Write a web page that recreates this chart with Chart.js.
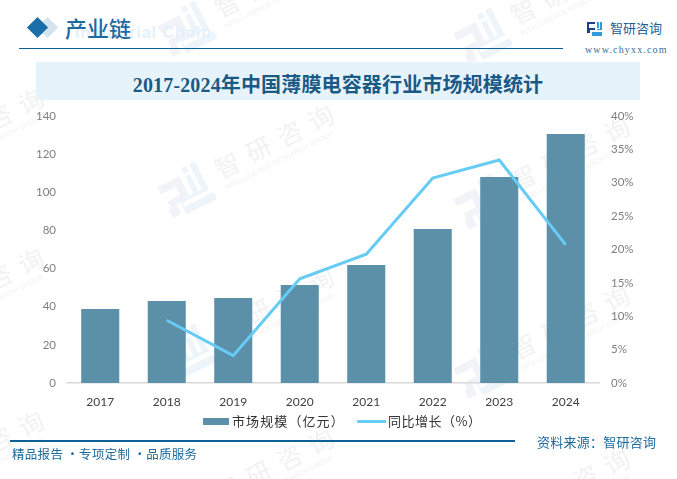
<!DOCTYPE html>
<html lang="zh">
<head>
<meta charset="utf-8">
<title>2017-2024年中国薄膜电容器行业市场规模统计</title>
<script src="https://cdn.jsdelivr.net/npm/chart.js@4"></script>
<style>
    html, body { margin: 0; padding: 0; background: #fff; }
    #page { position: relative; width: 677px; height: 479px; overflow: hidden; font-family: "Noto Sans CJK SC", sans-serif; }
    #page > * { position: absolute; }
    #chartBox { left: 0; top: 0; width: 677px; height: 479px; }
    .abs { white-space: nowrap; line-height: 1; }
    .wm { width: 0; height: 0; transform: rotate(-27deg); transform-origin: 0 0; }
    .wm svg { position: absolute; left: -25px; top: -23px; }
    .wm b { position: absolute; white-space: nowrap; font-weight: 400; line-height: 1; }
    .wm .cn { left: 35px; top: -18px; font-size: 25px; letter-spacing: 10px; color: #f2f2f2; }
    .wm .en { left: 35px; top: 11px; font: 7px "Liberation Sans", sans-serif; letter-spacing: .1px; color: #f2f2f2; }
    .legendText { font-size: 13px; letter-spacing: 1.1px; color: #333; }
</style>
</head>
<body>
<div id="page">
    <div id="watermarks"></div>

    <!-- header -->
    <div style="left:40px;top:20px;width:15px;height:15px;background:#d3e4ef;transform:rotate(45deg)"></div>
    <div style="left:30px;top:20px;width:15px;height:15px;background:#1a6fa8;transform:rotate(45deg)"></div>
    <div class="abs" style="left:75px;top:24px;font:bold 16px 'Liberation Sans',sans-serif;letter-spacing:1px;color:#e4f1fa">Industrial Chain</div>
    <div class="abs" style="left:65px;top:16px;font-size:22px;font-weight:500;color:#1f6aa0">产业链</div>
    <div style="left:19px;top:47.5px;width:544px;height:1.5px;background:#0a6299"></div>
    <svg style="left:587px;top:22px" width="15" height="15" viewBox="0 0 15 15">
        <path d="M0 0h8v2H2v4h6v2H3v3H0z" fill="#1d3f8f"/>
        <path d="M10 0h2v6h-2zM13 0h2v8h-5v-1h3zM5 10h10v4H5z" fill="#2f9bd8"/>
    </svg>
    <div class="abs" style="left:610px;top:21px;font-size:13px;color:#1f5f94">智研咨询</div>
    <div class="abs" style="left:585px;top:44px;font:10px 'Liberation Serif',serif;letter-spacing:1.15px;color:#3a6d92">www.chyxx.com</div>

    <!-- title -->
    <div style="left:36px;top:62px;width:604px;height:38px;background:#e6f3fb"></div>
    <div class="abs" style="left:36px;width:604px;top:69px;text-align:center;font:bold 20px 'Liberation Serif','Noto Sans CJK SC',serif;letter-spacing:.15px;color:#1a5a85">2017-2024年中国薄膜电容器行业市场规模统计</div>

    <!-- chart -->
    <div id="chartBox"><canvas id="marketChart"></canvas></div>

    <!-- legend -->
    <div style="left:203px;top:418px;width:26px;height:7px;background:#5c90a9"></div>
    <div class="abs legendText" id="legendBar" style="left:232px;top:414px"></div>
    <div style="left:357px;top:420px;width:29px;height:3px;border-radius:1px;background:#66ccf5"></div>
    <div class="abs legendText" id="legendLine" style="left:388px;top:414px;letter-spacing:.5px"></div>

    <!-- footer -->
    <div style="left:10px;top:440px;width:505px;height:1.5px;background:#0a6299"></div>
    <div class="abs" style="left:12px;top:448px;font-size:12.5px;letter-spacing:.3px;color:#1d6a9c">精品报告 ·专项定制 ·品质服务</div>
    <div class="abs" style="left:537px;top:435px;font-size:13px;letter-spacing:.25px;color:#1d6a9c">资料来源：智研咨询</div>
</div>

<script>
    // ===============================================
    // 1. Data
    // ===============================================
    const years = ['2017', '2018', '2019', '2020', '2021', '2022', '2023', '2024'];
    const marketSize = [38.8, 43, 44.6, 51.4, 61.9, 80.8, 108, 130.6];
    const yoyGrowth = [null, 9.4, 4.1, 15.6, 19.3, 30.7, 33.4, 20.7];
    const barLabel = '市场规模（亿元）';
    const lineLabel = '同比增长（%）';

    // ===============================================
    // 2. Watermarks
    // ===============================================
    const markX = [-103, 187, 483];
    const markY = [[14, 174, 334, 497], [30, 191, 353, 515], [37, 203, 372, 535]];
    const logoSvg = '<svg width="50" height="47" viewBox="0 0 64 60">' +
        '<path d="M0 8h32v30H12v14H0V40h4V30h18V18H0z" fill="#f1f3f8"/>' +
        '<path d="M38 0h7v8h-7zM38 12h7v26H38zM50 0h8v40H20v6h42v10H18V36h32z" fill="#edf5fa"/></svg>';
    let wmHtml = '';
    markX.forEach((x, i) => {
        markY[i].forEach(y => {
            wmHtml += '<div class="wm" style="position:absolute;left:' + x + 'px;top:' + y + 'px">' + logoSvg +
                '<b class="cn">智研咨询</b><b class="en">INTELLIGENCE RESEARCH GROUP</b></div>';
        });
    });
    document.getElementById('watermarks').innerHTML = wmHtml;

    document.getElementById('legendBar').innerText = barLabel;
    document.getElementById('legendLine').innerText = lineLabel;

    // ===============================================
    // 3. Chart.js Setup
    // ===============================================
    const ctx = document.getElementById('marketChart').getContext('2d');
    const tickFont = { family: 'Lato, sans-serif', size: 11.5 };

    new Chart(ctx, {
        data: {
            labels: years,
            datasets: [
                {
                    type: 'line',
                    label: lineLabel,
                    data: yoyGrowth,
                    yAxisID: 'y1',
                    borderColor: '#66ccf5',
                    borderWidth: 3,
                    tension: 0,
                    pointRadius: 0,
                    order: 1
                },
                {
                    type: 'bar',
                    label: barLabel,
                    data: marketSize,
                    yAxisID: 'y',
                    backgroundColor: '#5c90a9',
                    categoryPercentage: 1,
                    barPercentage: 0.572,
                    order: 2
                }
            ]
        },
        options: {
            responsive: true,
            maintainAspectRatio: false,
            animation: false,
            layout: { padding: { top: 116 } },
            plugins: {
                legend: { display: false },
                tooltip: { enabled: false }
            },
            scales: {
                x: {
                    grid: { display: false },
                    border: { color: '#d9d9d9', width: 1.5 },
                    ticks: { color: '#404040', padding: 4, font: { family: 'Lato, sans-serif', size: 12 } },
                    afterFit: function(axis) { axis.height = 96; }
                },
                y: {
                    position: 'left',
                    min: 0,
                    max: 140,
                    grid: { display: false, drawTicks: false },
                    border: { display: false },
                    ticks: { stepSize: 20, color: '#7f7f7f', padding: 11, font: tickFont },
                    afterFit: function(axis) { axis.width = 67; }
                },
                y1: {
                    position: 'right',
                    min: 0,
                    max: 40,
                    grid: { display: false, drawTicks: false },
                    border: { display: false },
                    ticks: {
                        stepSize: 5,
                        color: '#7f7f7f',
                        padding: 12,
                        font: tickFont,
                        callback: function(value) { return value + '%'; }
                    },
                    afterFit: function(axis) { axis.width = 78; }
                }
            }
        }
    });
</script>
</body>
</html>
